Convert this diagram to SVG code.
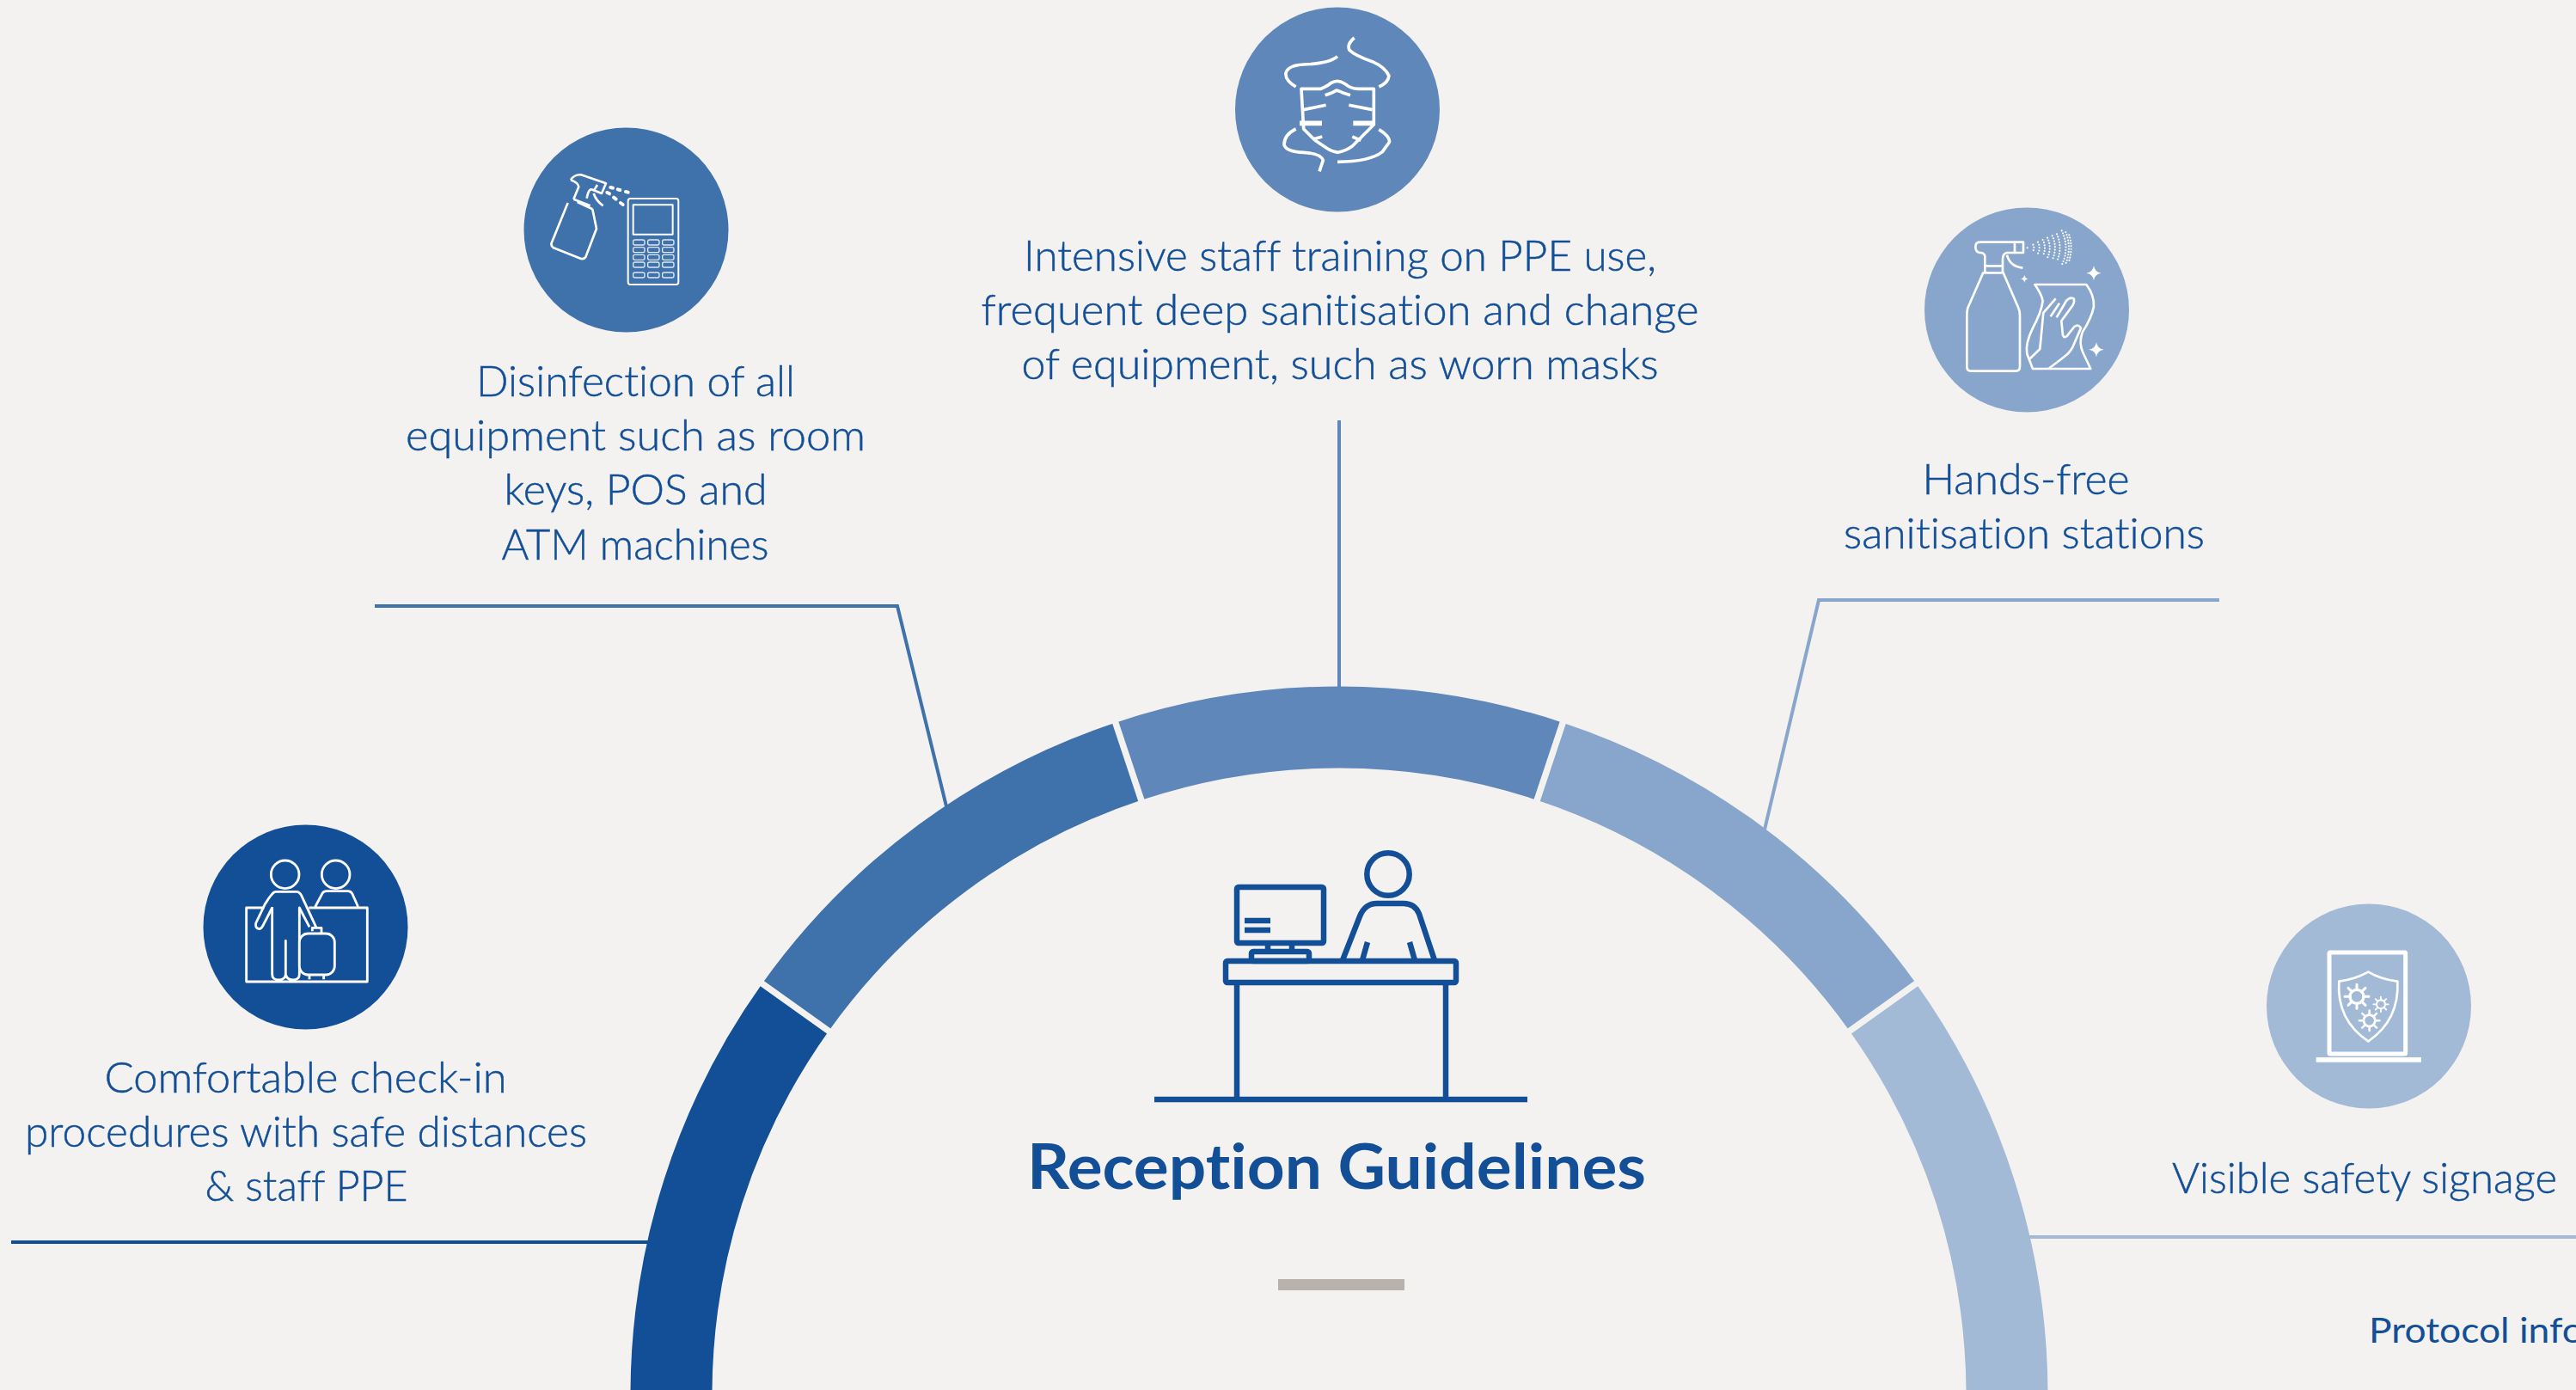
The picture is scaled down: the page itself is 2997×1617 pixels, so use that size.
<svg xmlns="http://www.w3.org/2000/svg" width="2997" height="1617" viewBox="0 0 2997 1617">
<style>
text{font-family:"Lato","Open Sans","Liberation Sans",sans-serif;fill:#134f97;font-variant-ligatures:none;}
.t{font-size:50px;font-weight:300;text-anchor:middle;stroke:#134f97;stroke-width:.5px;}
.ic{fill:none;stroke:#fff;stroke-linejoin:round;}
.seg{fill:none;stroke-width:95;}
.c{fill:none;stroke-width:4;}
.d{fill:none;stroke:#134f97;stroke-width:6.5;stroke-linejoin:round;}
</style>
<defs>
<g id="gear"><circle r="24" fill="none" stroke="#fff" stroke-width="10"/><path d="M0-24V-42M0 24V42M-24 0H-42M24 0H42M-17-17L-30-30M17-17L30-30M-17 17L-30 30M17 17L30 30" stroke="#fff" stroke-width="9" stroke-linecap="round"/></g>
<path id="star" d="M0-1Q.12-.12 1 0Q.12 .12 0 1Q-.12 .12-1 0Q-.12-.12 0-1Z" fill="#fff" stroke="none"/>
</defs>
<rect width="2997" height="1617" fill="#f3f2f1"/>

<g id="connectors">
<path class="c" stroke="#134f97" d="M13 1445H756"/>
<path class="c" stroke="#3f71ab" d="M436 705H1044L1101 938"/>
<path class="c" stroke="#5f87b9" d="M1558 489V799"/>
<path class="c" stroke="#88a6cc" d="M2582 698H2116L2053 965"/>
<path class="c" stroke="#a3bad7" d="M2361 1439H2997"/>
</g>

<g id="ring">
<path class="seg" stroke="#134f97" d="M781 1623A777 777 0 0 1 925.4 1171.8"/>
<path class="seg" stroke="#3f71ab" d="M925.4 1171.8A777 777 0 0 1 1312.8 885.7"/>
<path class="seg" stroke="#5f87b9" d="M1312.8 885.7A777 777 0 0 1 1803.2 885.7"/>
<path class="seg" stroke="#88a6cc" d="M1803.2 885.7A777 777 0 0 1 2190.6 1171.8"/>
<path class="seg" stroke="#a3bad7" d="M2190.6 1171.8A777 777 0 0 1 2335 1623"/>
<path d="M882.3 1141L967.8 1202M1296 835.4L1329.2 935M1820 835.4L1786.8 935M2233.7 1141L2148.2 1202" stroke="#f3f2f1" stroke-width="7.5" fill="none"/>
</g>

<g id="center">
<rect class="d" x="1439" y="1032" width="101" height="65" rx="2"/>
<path class="d" d="M1448 1071H1478M1448 1082H1478M1475 1097V1108M1503 1097V1108"/>
<rect class="d" x="1456" y="1107" width="67" height="11" rx="2"/>
<rect class="d" x="1426" y="1118" width="268" height="25" rx="2"/>
<path class="d" d="M1439 1143V1279M1682 1143V1279M1343 1279H1777"/>
<circle class="d" cx="1615" cy="1017" r="24.7"/>
<path class="d" d="M1562 1117L1582 1066Q1588 1051 1602 1051H1633Q1646 1051 1651 1063L1669 1117M1591 1096L1585 1117M1640 1096L1646 1117"/>
<text x="1555" y="1383" font-size="72" font-weight="700" text-anchor="middle" textLength="720" lengthAdjust="spacingAndGlyphs">Reception Guidelines</text>
<rect x="1487" y="1488" width="147" height="13" fill="#b9b1ab"/>
</g>

<g id="node-checkin">
<circle cx="355.5" cy="1078.5" r="119" fill="#134f97"/>
<g transform="translate(200 930) scale(.3333)" class="ic" stroke-width="8.5">
<circle cx="395" cy="262" r="49"/><circle cx="572" cy="262" r="49"/>
<path d="M500 375L525 328Q530 320 540 320H615Q625 320 630 330L650 375"/>
<path d="M322 378H260V636H682V378H478"/>
<path d="M350 375V610Q350 630 372 630Q395 630 397 610V493V610Q400 630 422 630Q445 630 445 610V378L480 445"/>
<path d="M360 322H435Q445 322 452 335L503 445M360 322Q350 325 325 365L293 432Q290 450 305 452Q312 452 318 440L350 378"/>
<rect x="445" y="468" width="123" height="144" rx="30" fill="#134f97"/>
<path d="M490 460V448H522V465M480 612V628M530 612V628"/>
</g>
<text class="t" x="355.5" y="1271" textLength="468" lengthAdjust="spacingAndGlyphs">Comfortable check-in</text>
<text class="t" x="356" y="1334" textLength="654" lengthAdjust="spacingAndGlyphs">procedures with safe distances</text>
<text class="t" x="356.5" y="1397" textLength="236" lengthAdjust="spacingAndGlyphs">&amp; staff PPE</text>
</g>

<g id="node-disinfection">
<circle cx="728.5" cy="267.5" r="119" fill="#3f71ab"/>
<g transform="translate(590 130) scale(.3333)" class="ic" stroke-width="8">
<path d="M212 318L155 458Q152 468 162 475L258 513Q270 515 275 505L312 408L298 340"/>
<path d="M232 305L290 328M245 315L298 340M222 238Q235 218 258 220L345 250L330 285L298 272Q285 265 278 302M222 238Q248 248 250 262L232 305M302 285Q310 310 335 328M315 255L305 272"/>
<path d="M361 264L369 266M386 271L394 273M414 279L422 281M349 282L357 286M372 299L380 305M396 318L404 324" stroke-width="12" stroke-linecap="round"/>
<rect x="422" y="303" width="176" height="300" rx="8" stroke-width="6"/>
<rect x="440" y="325" width="138" height="103" stroke-width="6"/>
<g stroke-width="4" stroke="#dfe7f1">
<rect x="440" y="447" width="40" height="18" rx="6"/><rect x="491" y="447" width="40" height="18" rx="6"/><rect x="542" y="447" width="40" height="18" rx="6"/>
<rect x="440" y="473" width="40" height="18" rx="6"/><rect x="491" y="473" width="40" height="18" rx="6"/><rect x="542" y="473" width="40" height="18" rx="6"/>
<rect x="440" y="499" width="40" height="18" rx="6"/><rect x="491" y="499" width="40" height="18" rx="6"/><rect x="542" y="499" width="40" height="18" rx="6"/>
<rect x="440" y="525" width="40" height="18" rx="6"/><rect x="491" y="525" width="40" height="18" rx="6"/><rect x="542" y="525" width="40" height="18" rx="6"/>
<rect x="440" y="561" width="40" height="18" rx="6"/><rect x="491" y="561" width="40" height="18" rx="6"/><rect x="542" y="561" width="40" height="18" rx="6"/>
</g>
</g>
<text class="t" x="739.5" y="461" textLength="371" lengthAdjust="spacingAndGlyphs">Disinfection of all</text>
<text class="t" x="739.5" y="524" textLength="535" lengthAdjust="spacingAndGlyphs">equipment such as room</text>
<text class="t" x="739.5" y="587" textLength="306" lengthAdjust="spacingAndGlyphs">keys, POS and</text>
<text class="t" x="739" y="651" textLength="311" lengthAdjust="spacingAndGlyphs">ATM machines</text>
</g>

<g id="node-training">
<circle cx="1556" cy="127.5" r="119" fill="#5f87b9"/>
<g transform="translate(1420 0) scale(.3333)" class="ic" stroke-width="11">
<path d="M282 310H350Q375 300 385 290Q410 275 435 293Q455 310 480 310H535V435L460 510Q440 525 410 532Q390 530 375 520L330 490L290 450Z"/>
<path d="M365 332Q390 325 405 315Q420 320 430 325L453 332M290 383L368 367M448 367L530 383M325 485L355 477M460 477L490 490"/>
<path d="M276 430H354M463 430H535" stroke-width="17"/>
<path d="M263 303Q225 280 228 255Q235 228 290 225Q380 222 408 197M467 132Q440 155 450 175Q470 195 530 215Q575 235 588 265Q585 290 553 303M263 450Q222 470 222 505Q230 530 290 532Q350 535 358 560L345 598M553 452Q590 475 590 495L565 530Q520 565 408 565"/>
</g>
<text class="t" x="1559" y="315" textLength="736" lengthAdjust="spacingAndGlyphs">Intensive staff training on PPE use,</text>
<text class="t" x="1559" y="378" textLength="835" lengthAdjust="spacingAndGlyphs">frequent deep sanitisation and change</text>
<text class="t" x="1559" y="441" textLength="741" lengthAdjust="spacingAndGlyphs">of equipment, such as worn masks</text>
</g>

<g id="node-stations">
<circle cx="2358" cy="360.5" r="119" fill="#88a6cc"/>
<g transform="translate(2220 230) scale(.3333)" class="ic" stroke-width="8">
<path d="M262 262L208 385Q205 395 205 410V590Q205 605 222 605H372Q390 605 390 590V410Q390 395 385 385L332 262Z"/>
<path d="M268 262V205Q268 195 255 192H250Q235 190 235 172Q235 155 250 155H372M268 238H330M330 262V215Q330 195 345 192H372M345 200Q355 240 400 245"/>
<rect x="372" y="155" width="30" height="37"/>
<g stroke-width="6.5" stroke-linecap="round" stroke-dasharray="0 10">
<path d="M416 175H420"/><path d="M436 164A22 22 0 0 1 436 186"/><path d="M453 155A42 42 0 0 1 453 195"/><path d="M470 147A60 60 0 0 1 470 203"/><path d="M486 140A78 78 0 0 1 486 210"/><path d="M503 133A96 96 0 0 1 503 217"/><path d="M519 127A114 114 0 0 1 519 223"/><path d="M536 115A132 132 0 0 1 536 235"/><path d="M550 120A146 146 0 0 1 550 230"/><path d="M562 130A150 150 0 0 1 562 220"/>
</g>
<path d="M442 303H622Q650 340 648 380Q640 420 608 470Q595 510 610 540L637 597H435L415 545Q408 510 435 455Q465 400 470 360Q465 335 442 303Z"/>
<path d="M425 562L460 528L472 402L515 352M497 415L528 368M518 418L552 360Q565 345 578 352Q582 362 575 375L535 430L540 480Q545 492 555 482L580 450Q595 440 603 455L575 520Q565 540 545 555L490 597"/>
<use href="#star" transform="translate(648 263) scale(26)"/><use href="#star" transform="translate(657 530) scale(26)"/><use href="#star" transform="translate(406 283) scale(14)"/>
</g>
<text class="t" x="2357" y="575" textLength="241" lengthAdjust="spacingAndGlyphs">Hands-free</text>
<text class="t" x="2355" y="638" textLength="420" lengthAdjust="spacingAndGlyphs">sanitisation stations</text>
</g>

<g id="node-signage">
<circle cx="2756" cy="1170.5" r="119" fill="#a3bad7"/>
<g transform="translate(2620 1040) scale(.3333)" class="ic" stroke-width="8">
<rect x="270" y="204" width="266" height="354" rx="3" stroke-width="15"/>
<rect x="224" y="570" width="367" height="17" fill="#fff" stroke="none"/>
<path d="M406 272Q360 298 304 305Q295 440 406 514Q515 440 508 305Q450 298 406 272Z"/>
<use href="#gear" transform="translate(366 358)"/>
<use href="#gear" transform="translate(450 385) scale(.62)"/>
<use href="#gear" transform="translate(410 442) scale(.84)"/>
</g>
<text class="t" x="2751" y="1388" textLength="448" lengthAdjust="spacingAndGlyphs">Visible safety signage</text>
</g>

<text id="protocol" x="2756" y="1562" font-size="40" textLength="250" lengthAdjust="spacingAndGlyphs">Protocol info</text>
</svg>
